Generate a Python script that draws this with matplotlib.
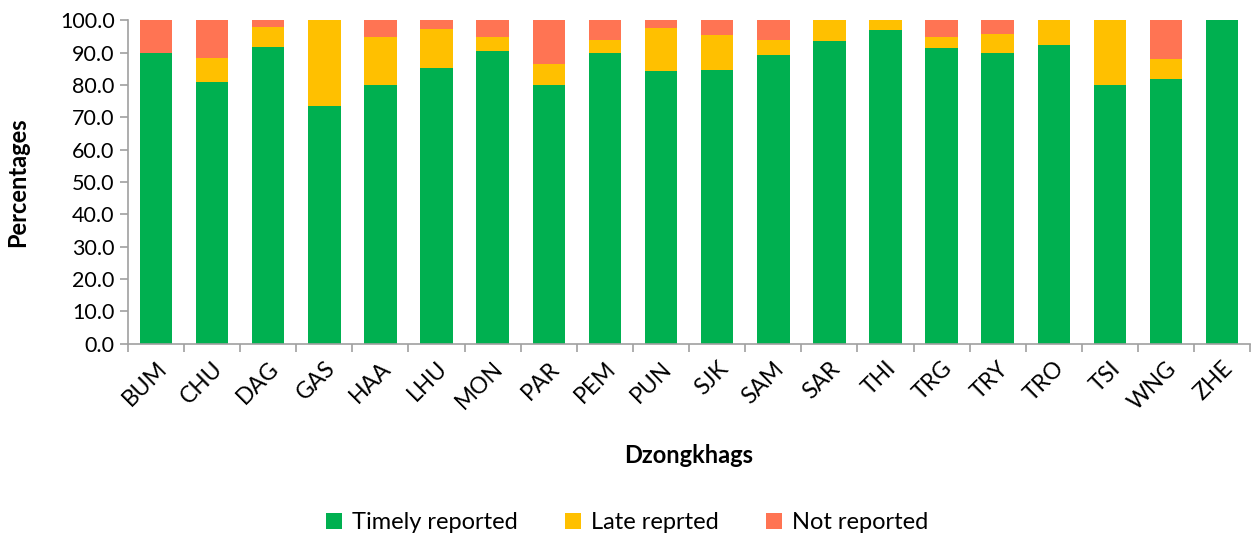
import numpy as np
import matplotlib
matplotlib.use("Agg")
import matplotlib.pyplot as plt
from matplotlib.ticker import MultipleLocator, FormatStrFormatter

plt.rcParams['font.family'] = ['Lato', 'DejaVu Sans']

districts = ["BUM", "CHU", "DAG", "GAS", "HAA", "LHU", "MON", "PAR", "PEM", "PUN",
             "SJK", "SAM", "SAR", "THI", "TRG", "TRY", "TRO", "TSI", "WNG", "ZHE"]
timely = [90.0, 81.0, 91.8, 73.5, 80.0, 85.3, 90.7, 80.0, 90.0, 84.4,
          84.6, 89.3, 93.7, 97.0, 91.5, 90.0, 92.5, 80.0, 82.0, 100.0]
late = [0.0, 7.4, 6.2, 26.5, 15.0, 11.9, 4.2, 6.6, 4.0, 13.2,
        10.8, 4.8, 6.3, 3.0, 3.4, 5.9, 7.5, 20.0, 6.0, 0.0]
not_rep = [10.0, 11.6, 2.0, 0.0, 5.0, 2.8, 5.1, 13.6, 6.0, 2.4,
           4.6, 5.9, 0.0, 0.0, 5.1, 4.1, 0.0, 0.0, 12.0, 0.0]

green, yellow, red = "#00B050", "#FFC000", "#FF7453"

fig = plt.figure(figsize=(12.54, 5.38), dpi=100)
ax = fig.add_axes([0.102, 0.361, 0.895, 0.601])

x = np.arange(len(districts))
t = np.array(timely)
l = np.array(late)
n = np.array(not_rep)
w = 0.58
ax.bar(x, t, w, color=green, label="Timely reported")
ax.bar(x, l, w, bottom=t, color=yellow, label="Late reprted")
ax.bar(x, n, w, bottom=t + l, color=red, label="Not reported")

ax.set_xlim(-0.5, len(districts) - 0.5)
ax.set_ylim(0, 100)
ax.yaxis.set_major_locator(MultipleLocator(10))
ax.yaxis.set_major_formatter(FormatStrFormatter("%.1f"))

ax.set_xticks(x)
ax.set_xticklabels(districts, rotation=45, ha="right", rotation_mode="anchor")
ax.set_xticks(np.arange(-0.5, len(districts)), minor=True)
ax.tick_params(axis="x", which="major", length=0, labelsize=16.5, pad=10)
ax.tick_params(axis="x", which="minor", length=6, color="#A0A0A0", width=1.2)
ax.tick_params(axis="y", length=6, color="#A0A0A0", width=1.2, labelsize=15.5)

for s in ["top", "right"]:
    ax.spines[s].set_visible(False)
for s in ["left", "bottom"]:
    ax.spines[s].set_color("#A0A0A0")
    ax.spines[s].set_linewidth(1.2)

ax.set_xlabel("Dzongkhags", fontsize=17, fontweight="bold", labelpad=22)
ax.set_ylabel("Percentages", fontsize=17, fontweight="bold", labelpad=22)

fig.legend(loc="center", bbox_to_anchor=(0.5, 0.028), ncol=3, frameon=False,
           fontsize=17, handlelength=0.7, handleheight=0.7, columnspacing=2.0,
           handletextpad=0.4)

fig.savefig("out.png", dpi=100)
